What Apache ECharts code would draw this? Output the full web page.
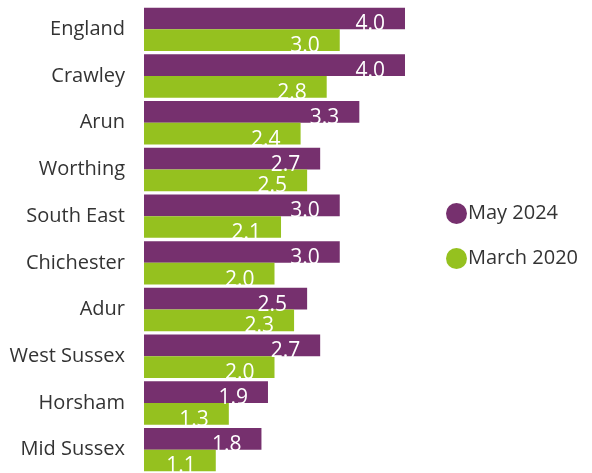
<!DOCTYPE html>
<html>
<head>
<meta charset="utf-8">
<script src="https://cdn.jsdelivr.net/npm/echarts@6/dist/echarts.min.js"></script>
<style>
  html, body { margin: 0; padding: 0; background: #fff; }
  #chart { width: 592px; height: 473px; }
</style>
</head>
<body>
<div id="chart"></div>
<script>
// areas, top to bottom
var areas = ['England', 'Crawley', 'Arun', 'Worthing', 'South East', 'Chichester', 'Adur', 'West Sussex', 'Horsham', 'Mid Sussex'];
var may2024 = [4.0, 4.0, 3.3, 2.7, 3.0, 3.0, 2.5, 2.7, 1.9, 1.8];
var march2020 = [3.0, 2.8, 2.4, 2.5, 2.1, 2.0, 2.3, 2.0, 1.3, 1.1];

var font = '"Open Sans", "Noto Sans", sans-serif';

var chart = echarts.init(document.getElementById('chart'));

var barLabel = {
    show: true,
    position: 'insideRight',
    offset: [-15, 6],
    color: '#fff',
    fontSize: 21,
    fontFamily: font,
    formatter: function(p) { return p.value.toFixed(1); }
};

chart.setOption({
    animation: false,
    grid: { left: 144, top: 6, width: 261, height: 468 },
    legend: {
        orient: 'vertical',
        left: 441,
        top: 198,
        icon: 'circle',
        itemWidth: 21,
        itemHeight: 21,
        itemGap: 24,
        textStyle: { fontSize: 20, color: '#333', fontFamily: font, padding: [0, 0, 0, -4] },
        data: ['May 2024', 'March 2020']
    },
    xAxis: {
        type: 'value',
        min: 0,
        max: 4,
        show: false
    },
    yAxis: {
        type: 'category',
        inverse: true,
        data: areas,
        axisLine: { show: false },
        axisTick: { show: false },
        axisLabel: { fontSize: 20, color: '#333', fontFamily: font, margin: 19, padding: [4, 0, 0, 0] }
    },
    series: [
        {
            name: 'May 2024',
            type: 'bar',
            data: may2024,
            itemStyle: { color: '#76306E' },
            barGap: '0%',
            barCategoryGap: '7%',
            label: barLabel
        },
        {
            name: 'March 2020',
            type: 'bar',
            data: march2020,
            itemStyle: { color: '#95C11F' },
            label: barLabel
        }
    ]
});
</script>
</body>
</html>
